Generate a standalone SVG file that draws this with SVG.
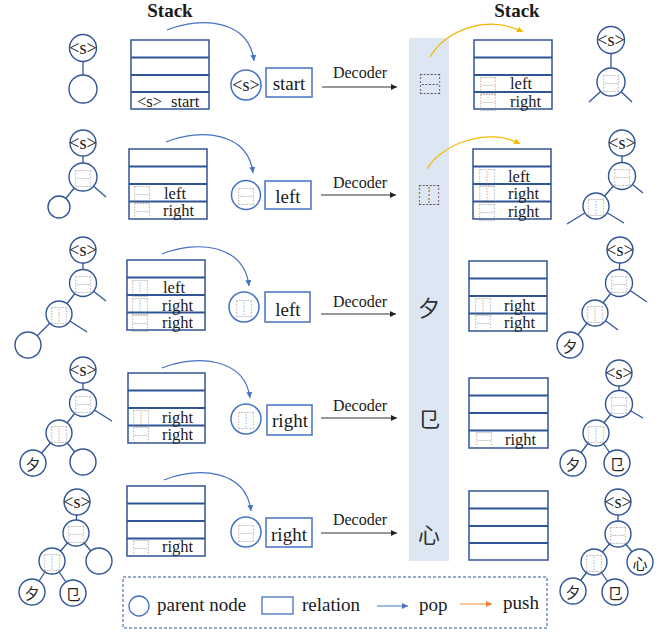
<svg xmlns="http://www.w3.org/2000/svg" width="663" height="635" viewBox="0 0 663 635">
<style>
text{font-family:"Liberation Serif","Times New Roman",serif;fill:#1a1a1a}
.tc{fill:#fff;stroke:#2f5597;stroke-width:1.4}
.tl{stroke:#2f5597;stroke-width:1.3;fill:none}
.st{fill:#fff;stroke:#2f5597;stroke-width:1.5}
.sd{stroke:#2f5597;stroke-width:1.8}
.pc{fill:#fff;stroke:#4472c4;stroke-width:1.5}
.s{font-size:18px;text-anchor:middle;dominant-baseline:central}
.idc{font-family:"Noto Sans CJK SC","Noto Sans CJK JP",sans-serif;fill:#777;text-anchor:middle;dominant-baseline:central}
.i15{font-size:17px}
.band{font-family:"Noto Sans CJK SC","Noto Sans CJK JP",sans-serif;fill:#333;font-size:22px;text-anchor:middle;dominant-baseline:central}
.cj{font-family:"Noto Sans CJK SC","Noto Sans CJK JP",sans-serif;fill:#222;font-size:15px;text-anchor:middle;dominant-baseline:central}
.lab{font-size:16.5px}
.box{font-size:19px;text-anchor:middle}
.dec{font-size:16px;text-anchor:middle}
.pop{fill:none;stroke:#4472c4;stroke-width:1.2}
.push{fill:none;stroke:#f5b800;stroke-width:1.2}
.arr{stroke:#333;stroke-width:1.2}
.leg{font-size:19px}
</style>
<defs>
<marker id="mb" markerWidth="8" markerHeight="8" refX="6" refY="3" orient="auto" markerUnits="userSpaceOnUse"><path d="M0,0 L6,3 L0,6 z" fill="#4472c4"/></marker>
<marker id="my" markerWidth="8" markerHeight="8" refX="6" refY="3" orient="auto" markerUnits="userSpaceOnUse"><path d="M0,0 L6,3 L0,6 z" fill="#f5b800"/></marker>
<marker id="mo" markerWidth="8" markerHeight="8" refX="6" refY="3" orient="auto" markerUnits="userSpaceOnUse"><path d="M0,0 L6,3 L0,6 z" fill="#ed7d31"/></marker>
<marker id="mk" markerWidth="8" markerHeight="8" refX="6" refY="3" orient="auto" markerUnits="userSpaceOnUse"><path d="M0,0 L6,3 L0,6 z" fill="#222"/></marker>
</defs>

<rect id="band" x="409" y="38" width="40" height="523" fill="#dde7f3"/>

<text x="170" y="17" font-size="19" font-weight="bold" text-anchor="middle">Stack</text>
<text x="517" y="17" font-size="19" font-weight="bold" text-anchor="middle">Stack</text>

<g id="connectors">
<path class="pop" d="M167,30 C202,16 249,20 254,61" marker-end="url(#mb)"/>
<path class="pop" d="M166,142 C201,128 248,132 253,173" marker-end="url(#mb)"/>
<path class="pop" d="M162,254 C197,240 244,244 249,286" marker-end="url(#mb)"/>
<path class="pop" d="M162,368 C197,354 245,358 250,398" marker-end="url(#mb)"/>
<path class="pop" d="M164,480 C199,466 246,470 251,511" marker-end="url(#mb)"/>
<path class="push" d="M430,57 C445,30 488,14 523,32" marker-end="url(#my)"/>
<path class="push" d="M427,169 C440,145 488,126 520,144" marker-end="url(#my)"/>
<line class="arr" x1="322" y1="87" x2="397" y2="87" marker-end="url(#mk)"/>
<line class="arr" x1="321" y1="195" x2="396" y2="195" marker-end="url(#mk)"/>
<line class="arr" x1="321" y1="314" x2="396" y2="314" marker-end="url(#mk)"/>
<line class="arr" x1="321" y1="418" x2="397" y2="418" marker-end="url(#mk)"/>
<line class="arr" x1="321" y1="533" x2="397" y2="533" marker-end="url(#mk)"/>
</g>
<g id="decoder-labels">
<text class="dec" x="360" y="78">Decoder</text>
<text class="dec" x="360" y="188">Decoder</text>
<text class="dec" x="360" y="307">Decoder</text>
<text class="dec" x="360" y="411">Decoder</text>
<text class="dec" x="360" y="525">Decoder</text>
</g>
<g id="band-chars">
<text class="band" x="430" y="82" style="fill:#333">⿱</text>
<text class="band" x="429" y="193">⿰</text>
<text class="band" x="429" y="306">夕</text>
<text class="band" x="429" y="417">㔾</text>
<text class="band" x="429" y="533">心</text>
</g>

<!-- Row 1 -->
<g id="tree-l1">
<line class="tl" x1="83" y1="48" x2="83" y2="89"/>
<circle class="tc" cx="83" cy="48" r="13.5"/><text class="s" x="83" y="48">&lt;s&gt;</text>
<circle class="tc" cx="83" cy="89" r="14"/>
</g>
<g id="stack-l1">
<rect class="st" x="131" y="40" width="78" height="69"/>
<line class="sd" x1="131" y1="57.5" x2="209" y2="57.5"/><line class="sd" x1="131" y1="75" x2="209" y2="75"/><line class="sd" x1="131" y1="92" x2="209" y2="92"/>
<text class="lab" x="137" y="107">&lt;s&gt;</text><text class="lab" x="171" y="107">start</text>
</g>
<g id="pop-1">
<circle class="pc" cx="246" cy="85" r="15"/><text class="s" x="246" y="85">&lt;s&gt;</text>
<rect class="pc" x="266" y="68" width="46" height="29"/><text class="box" x="289" y="90">start</text>
</g>
<g id="stack-r1">
<rect class="st" x="474" y="40" width="78" height="69"/>
<line class="sd" x1="474" y1="57.5" x2="552" y2="57.5"/><line class="sd" x1="474" y1="75" x2="552" y2="75"/><line class="sd" x1="474" y1="92" x2="552" y2="92"/>
<text class="idc i15" x="488" y="84">⿱</text><text class="lab" x="510" y="89">left</text>
<text class="idc i15" x="488" y="101">⿱</text><text class="lab" x="510" y="107">right</text>
</g>
<g id="tree-r1">
<line class="tl" x1="611" y1="40" x2="611" y2="82"/>
<line class="tl" x1="611" y1="82" x2="589" y2="102"/><line class="tl" x1="611" y1="82" x2="632" y2="102"/>
<circle class="tc" cx="611" cy="40" r="13.5"/><text class="s" x="611" y="40">&lt;s&gt;</text>
<circle class="tc" cx="611" cy="82" r="14"/><text class="idc i15" x="611" y="82">⿱</text>
</g>

<!-- Row 2 -->
<g id="tree-l2">
<line class="tl" x1="83" y1="143" x2="83" y2="177"/>
<line class="tl" x1="83" y1="177" x2="59" y2="207"/><line class="tl" x1="83" y1="177" x2="106" y2="197"/>
<circle class="tc" cx="83" cy="143" r="13"/><text class="s" x="83" y="143">&lt;s&gt;</text>
<circle class="tc" cx="83" cy="177" r="14"/><text class="idc i15" x="83" y="177">⿱</text>
<circle class="tc" cx="59" cy="207" r="11"/>
</g>
<g id="stack-l2">
<rect class="st" x="129" y="149" width="78" height="70"/>
<line class="sd" x1="129" y1="166.5" x2="207" y2="166.5"/><line class="sd" x1="129" y1="184" x2="207" y2="184"/><line class="sd" x1="129" y1="201.5" x2="207" y2="201.5"/>
<text class="idc i15" x="142" y="193">⿱</text><text class="lab" x="164" y="199">left</text>
<text class="idc i15" x="142" y="210">⿱</text><text class="lab" x="163" y="216">right</text>
</g>
<g id="pop-2">
<circle class="pc" cx="246" cy="195" r="14.5"/><text class="idc i15" x="246" y="195">⿱</text>
<rect class="pc" x="265" y="181" width="46" height="28"/><text class="box" x="288" y="203">left</text>
</g>
<g id="stack-r2">
<rect class="st" x="473" y="149" width="78" height="70"/>
<line class="sd" x1="473" y1="166.5" x2="551" y2="166.5"/><line class="sd" x1="473" y1="184" x2="551" y2="184"/><line class="sd" x1="473" y1="201.5" x2="551" y2="201.5"/>
<text class="idc i15" x="487" y="176">⿰</text><text class="lab" x="508" y="182">left</text>
<text class="idc i15" x="487" y="193">⿰</text><text class="lab" x="508" y="199">right</text>
<text class="idc i15" x="487" y="211">⿱</text><text class="lab" x="508" y="217">right</text>
</g>
<g id="tree-r2">
<line class="tl" x1="622" y1="143" x2="622" y2="176"/>
<line class="tl" x1="622" y1="176" x2="596" y2="206"/><line class="tl" x1="622" y1="176" x2="643" y2="193"/>
<line class="tl" x1="596" y1="206" x2="567" y2="224"/><line class="tl" x1="596" y1="206" x2="624" y2="223"/>
<circle class="tc" cx="622" cy="143" r="13"/><text class="s" x="622" y="143">&lt;s&gt;</text>
<circle class="tc" cx="622" cy="176" r="13.5"/><text class="idc i15" x="622" y="176">⿱</text>
<circle class="tc" cx="596" cy="206" r="13"/><text class="idc i15" x="596" y="206">⿰</text>
</g>

<!-- Row 3 -->
<g id="tree-l3">
<line class="tl" x1="83" y1="250" x2="83" y2="283"/>
<line class="tl" x1="83" y1="283" x2="59" y2="314"/><line class="tl" x1="83" y1="283" x2="106" y2="301"/>
<line class="tl" x1="59" y1="314" x2="28" y2="345"/><line class="tl" x1="59" y1="314" x2="87" y2="332"/>
<circle class="tc" cx="83" cy="250" r="13"/><text class="s" x="83" y="250">&lt;s&gt;</text>
<circle class="tc" cx="83" cy="283" r="13.5"/><text class="idc i15" x="83" y="283">⿱</text>
<circle class="tc" cx="59" cy="314" r="13"/><text class="idc i15" x="59" y="314">⿰</text>
<circle class="tc" cx="28" cy="345" r="13"/>
</g>
<g id="stack-l3">
<rect class="st" x="127" y="260" width="78" height="70"/>
<line class="sd" x1="127" y1="277.5" x2="205" y2="277.5"/><line class="sd" x1="127" y1="295" x2="205" y2="295"/><line class="sd" x1="127" y1="312.5" x2="205" y2="312.5"/>
<text class="idc i15" x="140" y="287">⿰</text><text class="lab" x="163" y="293">left</text>
<text class="idc i15" x="140" y="305">⿰</text><text class="lab" x="162" y="311">right</text>
<text class="idc i15" x="140" y="322">⿱</text><text class="lab" x="162" y="328">right</text>
</g>
<g id="pop-3">
<circle class="pc" cx="244" cy="307" r="15"/><text class="idc i15" x="244" y="307">⿰</text>
<rect class="pc" x="265" y="292" width="45" height="30"/><text class="box" x="288" y="316">left</text>
</g>
<g id="stack-r3">
<rect class="st" x="469" y="261" width="78" height="70"/>
<line class="sd" x1="469" y1="278.5" x2="547" y2="278.5"/><line class="sd" x1="469" y1="296" x2="547" y2="296"/><line class="sd" x1="469" y1="313.5" x2="547" y2="313.5"/>
<text class="idc i15" x="483" y="305">⿰</text><text class="lab" x="504" y="311">right</text>
<text class="idc i15" x="483" y="322">⿱</text><text class="lab" x="504" y="328">right</text>
</g>
<g id="tree-r3">
<line class="tl" x1="620" y1="250" x2="619" y2="283"/>
<line class="tl" x1="619" y1="283" x2="595" y2="313"/><line class="tl" x1="619" y1="283" x2="647" y2="302"/>
<line class="tl" x1="595" y1="313" x2="570" y2="345"/><line class="tl" x1="595" y1="313" x2="618" y2="330"/>
<circle class="tc" cx="620" cy="250" r="13"/><text class="s" x="620" y="250">&lt;s&gt;</text>
<circle class="tc" cx="619" cy="283" r="13.5"/><text class="idc i15" x="619" y="283">⿱</text>
<circle class="tc" cx="595" cy="313" r="13"/><text class="idc i15" x="595" y="313">⿰</text>
<circle class="tc" cx="570" cy="345" r="13"/><text class="cj" x="570" y="345">夕</text>
</g>

<!-- Row 4 -->
<g id="tree-l4">
<line class="tl" x1="83" y1="370" x2="83" y2="403"/>
<line class="tl" x1="83" y1="403" x2="59" y2="433"/><line class="tl" x1="83" y1="403" x2="112" y2="421"/>
<line class="tl" x1="59" y1="433" x2="33" y2="463"/><line class="tl" x1="59" y1="433" x2="83" y2="462"/>
<circle class="tc" cx="83" cy="370" r="13"/><text class="s" x="83" y="370">&lt;s&gt;</text>
<circle class="tc" cx="83" cy="403" r="13.5"/><text class="idc i15" x="83" y="403">⿱</text>
<circle class="tc" cx="59" cy="433" r="13"/><text class="idc i15" x="59" y="433">⿰</text>
<circle class="tc" cx="33" cy="463" r="13"/><text class="cj" x="33" y="463">夕</text>
<circle class="tc" cx="83" cy="462" r="13"/>
</g>
<g id="stack-l4">
<rect class="st" x="128" y="373" width="77" height="70"/>
<line class="sd" x1="128" y1="390.5" x2="205" y2="390.5"/><line class="sd" x1="128" y1="408" x2="205" y2="408"/><line class="sd" x1="128" y1="425.5" x2="205" y2="425.5"/>
<text class="idc i15" x="141" y="417">⿰</text><text class="lab" x="162" y="423">right</text>
<text class="idc i15" x="141" y="434">⿱</text><text class="lab" x="162" y="440">right</text>
</g>
<g id="pop-4">
<circle class="pc" cx="246" cy="419" r="15"/><text class="idc i15" x="246" y="419">⿰</text>
<rect class="pc" x="267" y="405" width="45" height="30"/><text class="box" x="290" y="427">right</text>
</g>
<g id="stack-r4">
<rect class="st" x="469" y="378" width="79" height="70"/>
<line class="sd" x1="469" y1="395.5" x2="548" y2="395.5"/><line class="sd" x1="469" y1="413" x2="548" y2="413"/><line class="sd" x1="469" y1="430.5" x2="548" y2="430.5"/>
<text class="idc i15" x="484" y="439">⿱</text><text class="lab" x="505" y="445">right</text>
</g>
<g id="tree-r4">
<line class="tl" x1="619" y1="373" x2="619" y2="404"/>
<line class="tl" x1="619" y1="404" x2="596" y2="433"/><line class="tl" x1="619" y1="404" x2="643" y2="418"/>
<line class="tl" x1="596" y1="433" x2="573" y2="463"/><line class="tl" x1="596" y1="433" x2="617" y2="463"/>
<circle class="tc" cx="619" cy="373" r="13"/><text class="s" x="619" y="373">&lt;s&gt;</text>
<circle class="tc" cx="619" cy="404" r="13.5"/><text class="idc i15" x="619" y="404">⿱</text>
<circle class="tc" cx="596" cy="433" r="13"/><text class="idc i15" x="596" y="433">⿰</text>
<circle class="tc" cx="573" cy="463" r="13"/><text class="cj" x="573" y="463">夕</text>
<circle class="tc" cx="617" cy="463" r="13"/><text class="cj" x="617" y="463">㔾</text>
</g>

<!-- Row 5 -->
<g id="tree-l5">
<line class="tl" x1="77" y1="502" x2="76" y2="533"/>
<line class="tl" x1="76" y1="533" x2="52" y2="561"/><line class="tl" x1="76" y1="533" x2="99" y2="561"/>
<line class="tl" x1="52" y1="561" x2="32" y2="592"/><line class="tl" x1="52" y1="561" x2="73" y2="593"/>
<circle class="tc" cx="77" cy="502" r="13"/><text class="s" x="77" y="502">&lt;s&gt;</text>
<circle class="tc" cx="76" cy="533" r="13"/><text class="idc i15" x="76" y="533">⿱</text>
<circle class="tc" cx="52" cy="561" r="13"/><text class="idc i15" x="52" y="561">⿰</text>
<circle class="tc" cx="99" cy="561" r="13"/>
<circle class="tc" cx="32" cy="592" r="13"/><text class="cj" x="32" y="592">夕</text>
<circle class="tc" cx="73" cy="593" r="13"/><text class="cj" x="73" y="593">㔾</text>
</g>
<g id="stack-l5">
<rect class="st" x="127" y="486" width="78" height="70"/>
<line class="sd" x1="127" y1="503.5" x2="205" y2="503.5"/><line class="sd" x1="127" y1="521" x2="205" y2="521"/><line class="sd" x1="127" y1="538.5" x2="205" y2="538.5"/>
<text class="idc i15" x="141" y="547">⿱</text><text class="lab" x="162" y="552">right</text>
</g>
<g id="pop-5">
<circle class="pc" cx="246" cy="532" r="15"/><text class="idc i15" x="246" y="532">⿱</text>
<rect class="pc" x="266" y="518" width="46" height="29"/><text class="box" x="289" y="541">right</text>
</g>
<g id="stack-r5">
<rect class="st" x="469" y="491" width="79" height="69"/>
<line class="sd" x1="469" y1="508.5" x2="548" y2="508.5"/><line class="sd" x1="469" y1="526" x2="548" y2="526"/><line class="sd" x1="469" y1="543" x2="548" y2="543"/>
</g>
<g id="tree-r5">
<line class="tl" x1="618" y1="502" x2="618" y2="534"/>
<line class="tl" x1="618" y1="534" x2="594" y2="562"/><line class="tl" x1="618" y1="534" x2="640" y2="562"/>
<line class="tl" x1="594" y1="562" x2="573" y2="591"/><line class="tl" x1="594" y1="562" x2="615" y2="592"/>
<circle class="tc" cx="618" cy="502" r="13"/><text class="s" x="618" y="502">&lt;s&gt;</text>
<circle class="tc" cx="618" cy="534" r="13"/><text class="idc i15" x="618" y="534">⿱</text>
<circle class="tc" cx="594" cy="562" r="13"/><text class="idc i15" x="594" y="562">⿰</text>
<circle class="tc" cx="640" cy="562" r="13"/><text class="cj" x="640" y="562">心</text>
<circle class="tc" cx="573" cy="591" r="13"/><text class="cj" x="573" y="591">夕</text>
<circle class="tc" cx="615" cy="592" r="13"/><text class="cj" x="615" y="592">㔾</text>
</g>

<g id="legend">
<rect x="123" y="577" width="424" height="51" fill="none" stroke="#2f5597" stroke-width="1" stroke-dasharray="3,2"/>
<circle cx="139" cy="606" r="10" fill="#fff" stroke="#4472c4" stroke-width="1.3"/>
<text class="leg" x="157" y="611">parent node</text>
<rect x="262" y="597" width="31" height="17" fill="#fff" stroke="#4472c4" stroke-width="1.3"/>
<text class="leg" x="302" y="611">relation</text>
<line x1="377" y1="606" x2="408" y2="606" stroke="#4472c4" stroke-width="1" marker-end="url(#mb)"/>
<text class="leg" x="419" y="611">pop</text>
<line x1="460" y1="604" x2="492" y2="604" stroke="#f4b183" stroke-width="1.5" marker-end="url(#mo)"/>
<text class="leg" x="503" y="609">push</text>
</g>
</svg>
